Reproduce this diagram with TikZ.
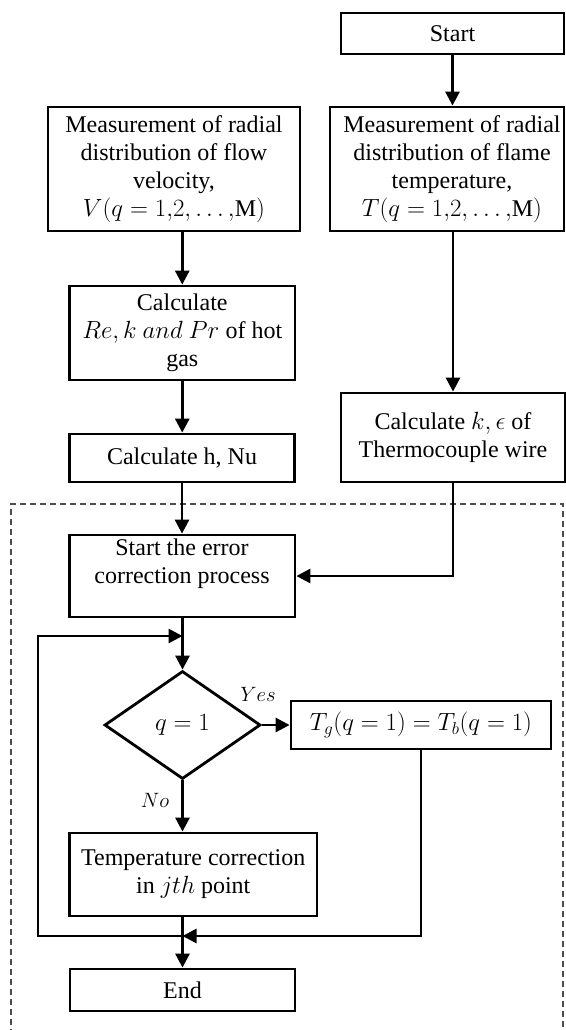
\documentclass[tikz,border=0pt]{standalone}
\usepackage{fontspec}
\setmainfont{Liberation Serif}
\usetikzlibrary{arrows.meta,shapes.geometric}
\newcommand\fsmain{\fontsize{24}{28}\selectfont}
\newcommand\fslab{\fontsize{20}{24}\selectfont}
\tikzset{
  box/.style={draw, rectangle, line width=2.8pt, inner sep=0pt, align=center, font=\fsmain},
  txt/.style={inner sep=0pt, align=center, font=\fsmain},
  lab/.style={inner sep=0pt, font=\fslab},
  arr/.style={line width=2.8pt, -{Triangle[length=14pt,width=14pt]}},
  dashbox/.style={line width=1.3pt, black!70, dash pattern=on 6pt off 4pt}
}
\begin{document}
\begin{tikzpicture}[x=1pt,y=-1pt]
\useasboundingbox (0,0) rectangle (565,1030);
% dashed region
\draw[dashbox] (11,1045) -- (11,504) -- (563,504) -- (563,1045);
% nodes
\node[box, minimum width=223, minimum height=41] (start) at (452.5,33.5) {Start};
\node[box, minimum width=234, minimum height=124] (tbox) at (447,169) {};
\node[txt] (ttext) at (452,169) {Measurement of radial\\distribution of flame\\temperature,\\$T(q=1{,}2{,}\ldots{,}\mathrm{M})$};
\node[box, minimum width=252, minimum height=124] (vbox) at (174,169) {Measurement of radial\\distribution of flow\\velocity,\\$V(q=1{,}2{,}\ldots{,}\mathrm{M})$};
\node[box, minimum width=225.5, minimum height=94] (rebox) at (182.25,333) {Calculate\\$Re,k\ and\ Pr$ of hot\\gas};
\node[box, minimum width=224.5, minimum height=48] (hbox) at (182,458) {Calculate h, Nu};
\node[box, minimum width=224, minimum height=89] (kbox) at (453,437.5) {Calculate $k,\epsilon$ of\\Thermocouple wire};
\node[box, minimum width=225.5, minimum height=82] (err) at (182.25,576) {};
\node[txt] (errt) at (182,564) {Start the error\\correction process};
\node[draw, diamond, line width=2.8pt, inner sep=0pt, minimum width=156, minimum height=108, font=\fsmain] (dia) at (182.5,725) {$q=1$};
\node[box, minimum width=260, minimum height=48] (tg) at (421,725) {$T_g(q=1)=T_b(q=1)$};
\node[box, minimum width=247.5, minimum height=83] (temp) at (193.25,874.5) {Temperature correction\\in $jth$ point};
\node[box, minimum width=225, minimum height=42] (endb) at (182.5,990) {End};
% labels
\node[lab] (yes) at (258,694) {$Yes$};
\node[lab] (no) at (155,800) {$No$};
% helper coordinates
\coordinate (merge) at (182.5,936);
\coordinate (loopbot) at (38,936);
\coordinate (looptop) at (38,636);
\coordinate (loopin) at (182.5,636);
% connectors
\draw[arr] (start.south) -- (start.south |- tbox.north);
\draw[arr] (rebox.north |- vbox.south) -- (rebox.north);
\draw[arr] (rebox.south) -- (rebox.south |- hbox.north);
\draw[arr] (kbox.north |- tbox.south) -- (kbox.north);
\draw[arr] (hbox.south) -- (hbox.south |- err.north);
\draw[arr] (kbox.south) -- (kbox.south |- err.east) -- (err.east);
\draw[arr] (err.south -| dia.north) -- (dia.north);
\draw[arr] (dia.east) -- (tg.west);
\draw[arr] (dia.south) -- (dia.south |- temp.north);
\draw[arr] (endb.north |- temp.south) -- (endb.north);
\draw[arr] (merge) -- (loopbot) -- (looptop) -- (loopin);
\draw[arr] (tg.south) -- (tg.south |- merge) -- (merge);
\end{tikzpicture}
\end{document}
